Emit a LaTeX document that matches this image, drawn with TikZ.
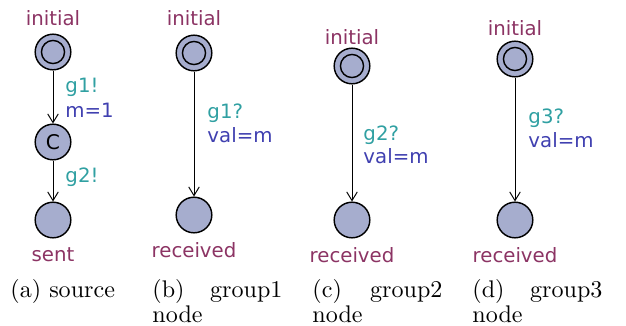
\documentclass[tikz,border=0pt]{standalone}
\usepackage{fontspec}
\newfontfamily\uppfont{DejaVu Sans}
\usepackage{tikz}
\usetikzlibrary{arrows.meta}

\definecolor{locname}{RGB}{140,52,100}
\definecolor{syncol}{RGB}{48,160,162}
\definecolor{asgcol}{RGB}{64,64,176}
\definecolor{locfill}{RGB}{166,173,206}

\tikzset{
  loc/.style={circle, draw, semithick, fill=locfill, minimum size=14.8pt, inner sep=0pt, font=\uppfont\fontsize{8.4}{10}\selectfont},
  initloc/.style={loc, path picture={\draw[semithick] (path picture bounding box.center) circle (4.8pt);}},
  lname/.style={text=locname, font=\uppfont\fontsize{8.2}{9.5}\selectfont},
  sync/.style={text=syncol, anchor=west, inner sep=0pt, font=\uppfont\fontsize{8.2}{9.5}\selectfont},
  asg/.style={text=asgcol, anchor=west, inner sep=0pt, font=\uppfont\fontsize{8.2}{9.5}\selectfont},
  caption/.style={anchor=north west, inner sep=0pt, text width=54pt, align=justify, font=\fontsize{10}{9.3}\selectfont}
}

\begin{document}
\begin{tikzpicture}[x=0.0146cm, y=-0.0146cm, >={Straight Barb[length=3.6pt,width=4.4pt]}]
  \useasboundingbox (0,0) rectangle (626,325);

  % Nodes
  \node[initloc] (a0) at (53,52) {};
  \node[loc] (a1) at (53,142) {C};
  \node[loc] (a2) at (53,220) {};
  \node[lname] (a0n) at (53,18) {initial};
  \node[lname] (a2n) at (53,255) {sent};

  \node[initloc] (b0) at (194,53) {};
  \node[loc] (b1) at (194,215) {};
  \node[lname] (b0n) at (194,18) {initial};
  \node[lname] (b1n) at (194,250) {received};

  \node[initloc] (c0) at (352,66) {};
  \node[loc] (c1) at (352,220) {};
  \node[lname] (c0n) at (352,37) {initial};
  \node[lname] (c1n) at (352,255) {received};

  \node[initloc] (d0) at (515,59) {};
  \node[loc] (d1) at (515,220) {};
  \node[lname] (d0n) at (515,28) {initial};
  \node[lname] (d1n) at (515,255) {received};

  % Arrows
  \draw[->] (a0) -- (a1);
  \draw[->] (a1) -- (a2);
  \draw[->] (b0) -- (b1);
  \draw[->] (c0) -- (c1);
  \draw[->] (d0) -- (d1);

  % Edge labels
  \node[sync] (g1s) at (65,87) {g1!};
  \node[asg] (m1) at (65,110) {m=1};
  \node[sync] (g2s) at (65,177) {g2!};
  \node[sync] (g1r) at (207,113) {g1?};
  \node[asg] (v1) at (207,135) {val=m};
  \node[sync] (g2r) at (363,135) {g2?};
  \node[asg] (v2) at (363,156) {val=m};
  \node[sync] (g3r) at (528,118) {g3?};
  \node[asg] (v3) at (528,140) {val=m};

  % Captions
  \node[caption, align=left] (capa) at (10,279) {(a) source};
  \node[caption] (capb) at (152,279) {(b) group1 node};
  \node[caption] (capc) at (312,279) {(c) group2 node};
  \node[caption] (capd) at (472,279) {(d) group3 node};
\end{tikzpicture}
\end{document}
